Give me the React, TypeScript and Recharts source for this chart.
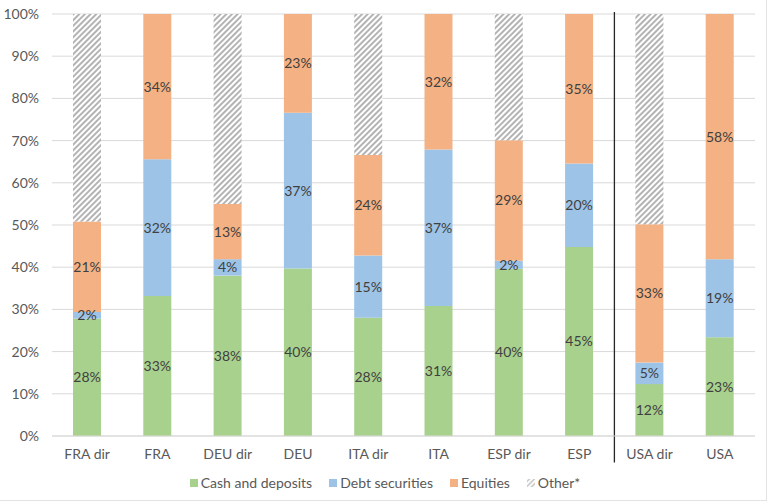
import React from 'react';
import { BarChart, Bar, XAxis, YAxis, CartesianGrid, Legend, LabelList, ReferenceLine } from 'recharts';

const categories = ['FRA dir', 'FRA', 'DEU dir', 'DEU', 'ITA dir', 'ITA', 'ESP dir', 'ESP', 'USA dir', 'USA'];
const cash = [27.8, 33.2, 38.0, 39.7, 28.0, 30.8, 39.6, 44.8, 12.3, 23.4];
const debt = [1.6, 32.4, 3.9, 36.9, 14.8, 37.1, 1.9, 19.8, 5.1, 18.5];
const equities = [21.4, 34.4, 13.1, 23.4, 23.8, 32.1, 28.6, 35.4, 32.8, 58.1];
const other = [49.2, 0, 45.0, 0, 33.4, 0, 29.9, 0, 49.8, 0];
const yTicks = [0, 10, 20, 30, 40, 50, 60, 70, 80, 90, 100];

const data = categories.map((name, i) => ({
  name,
  cash: cash[i],
  debt: debt[i],
  equities: equities[i],
  other: other[i],
}));

const FONT = 'Lato, "Noto Sans", sans-serif';
const pct = (v: any) => (v ? `${Math.round(Number(v))}%` : '');

const labelStyle = { fill: '#404040', fontSize: 14, fontFamily: FONT };
const tickStyle = { fill: '#595959', fontSize: 14, fontFamily: FONT };

// legend drawn by hand so spacing matches the Excel-style original
const renderLegend = (props: any) => {
  const { payload = [] } = props;
  return (
    <div
      style={{
        display: 'flex',
        justifyContent: 'center',
        alignItems: 'center',
        height: 20,
        lineHeight: '20px',
        fontSize: 14,
        fontFamily: FONT,
        color: '#595959',
      }}
    >
      {payload.map((entry: any, i: number) => (
        <div key={entry.value} style={{ display: 'flex', alignItems: 'center', marginLeft: i === 0 ? 0 : 17 }}>
          <svg width={8} height={8} style={{ marginRight: 3 }}>
            <rect width={8} height={8} fill={entry.dataKey === 'other' ? 'url(#hatchLegend)' : entry.color} />
          </svg>
          <span>{entry.value}</span>
        </div>
      ))}
    </div>
  );
};

const App: React.FC = () => {
  return (
    <div
      style={{
        position: 'absolute',
        left: 0,
        top: 0,
        width: 766,
        height: 500,
        background: '#fff',
        borderRight: '1px solid #e3e3e3',
        borderBottom: '1px solid #e3e3e3',
        fontFamily: FONT,
      }}
    >
      <BarChart
        width={768}
        height={504}
        data={data}
        margin={{ top: 14, right: 13, left: 0, bottom: 11 }}
        barSize={28}
      >
        <defs>
          <pattern id="hatch" width="4" height="4" patternUnits="userSpaceOnUse" patternTransform="rotate(45)">
            <rect width="4" height="4" fill="#fff" />
            <line x1="2" y1="0" x2="2" y2="4" stroke="#a0a0a0" strokeWidth="1.6" />
          </pattern>
          <pattern id="hatchLegend" width="3.5" height="3.5" patternUnits="userSpaceOnUse" patternTransform="rotate(45)">
            <rect width="3.5" height="3.5" fill="#fff" />
            <line x1="1.75" y1="0" x2="1.75" y2="3.5" stroke="#b8b8b8" strokeWidth="1.2" />
          </pattern>
        </defs>
        <CartesianGrid vertical={false} stroke="#d9d9d9" />
        <XAxis
          dataKey="name"
          axisLine={{ stroke: '#d9d9d9' }}
          tickLine={false}
          tickMargin={7}
          height={37}
          tick={tickStyle}
        />
        <YAxis
          width={52}
          domain={[0, 100]}
          ticks={yTicks}
          tickFormatter={(v) => `${v}%`}
          axisLine={false}
          tickLine={false}
          tickMargin={7}
          tick={tickStyle}
        />
        <Legend
          verticalAlign="bottom"
          content={renderLegend}
          wrapperStyle={{ left: 2, width: 766 }}
        />
        <Bar dataKey="cash" name="Cash and deposits" stackId="a" fill="#a9d18e" isAnimationActive={false}>
          <LabelList dataKey="cash" position="center" formatter={pct} style={labelStyle} />
        </Bar>
        <Bar dataKey="debt" name="Debt securities" stackId="a" fill="#9dc3e6" isAnimationActive={false}>
          <LabelList dataKey="debt" position="center" formatter={pct} style={labelStyle} />
        </Bar>
        <Bar dataKey="equities" name="Equities" stackId="a" fill="#f4b183" isAnimationActive={false}>
          <LabelList dataKey="equities" position="center" formatter={pct} style={labelStyle} />
        </Bar>
        <Bar dataKey="other" name="Other*" stackId="a" fill="url(#hatch)" isAnimationActive={false} />
        <ReferenceLine
          segment={[
            { x: 'USA dir', y: 100.5 },
            { x: 'USA dir', y: -6.3 },
          ]}
          position="start"
          ifOverflow="visible"
          stroke="#262626"
          strokeWidth={1.3}
        />
      </BarChart>
    </div>
  );
};

export default App;
